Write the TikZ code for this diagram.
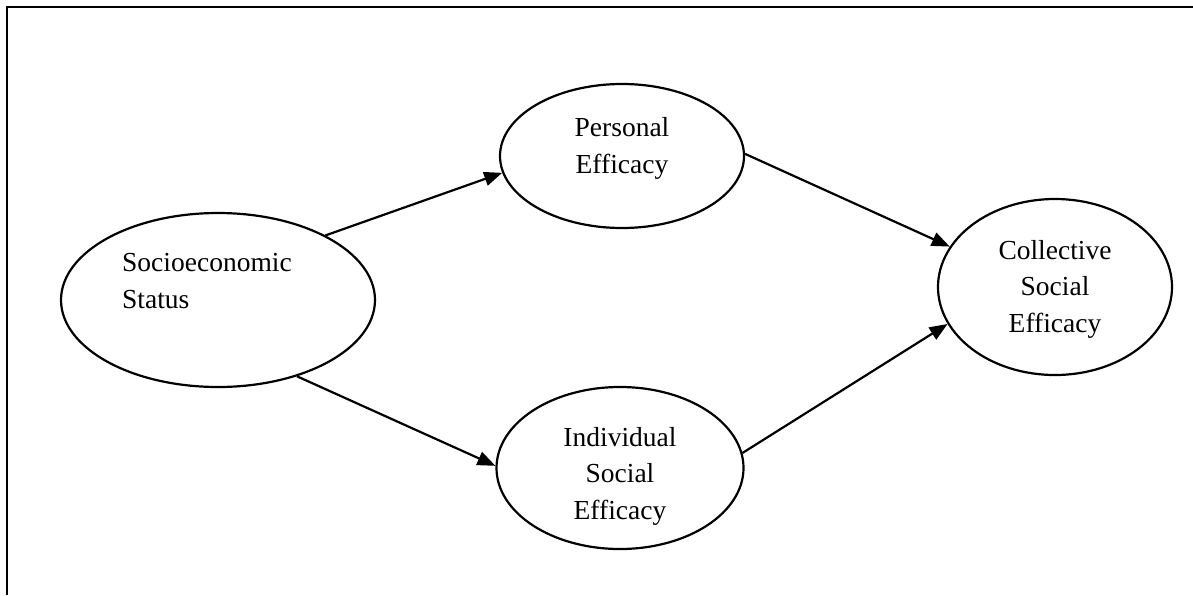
\documentclass[tikz,border=0pt]{standalone}
\usepackage{fontspec}
\setmainfont{Liberation Serif}
\usetikzlibrary{shapes.geometric,arrows.meta}

\begin{document}
\begin{tikzpicture}[x=1pt,y=-1pt,
    latent/.style={ellipse,draw,line width=2.2pt,inner sep=0pt},
    lbl/.style={font=\fontsize{27.5}{36.5}\selectfont,align=center,inner sep=0pt,anchor=base},
    path/.style={line width=2.2pt,-{Triangle[length=18pt,width=14pt]}},
    frameline/.style={line width=2.6pt}]
  \useasboundingbox (0,0) rectangle (1193,595);

  % open frame: top and left edges only
  \coordinate (frTR) at (1193,7);
  \coordinate (frTL) at (7,7);
  \coordinate (frBL) at (7,595);
  \draw[frameline] (frTR) -- (frTL) -- (frBL);

  % latent variables
  \node[latent,minimum width=314pt,minimum height=174pt] (ses) at (218,300) {};
  \node[latent,minimum width=244pt,minimum height=144pt] (pe)  at (622,156) {};
  \node[latent,minimum width=247pt,minimum height=162pt] (ise) at (620,468) {};
  \node[latent,minimum width=234pt,minimum height=176pt] (cse) at (1055,287) {};

  % labels (anchored at the baseline of the last line)
  \node[lbl,anchor=base west,align=left] (sesL) at (122,308) {Socioeconomic\\Status};
  \node[lbl] (peL)  at (622,173) {Personal\\Efficacy};
  \node[lbl] (iseL) at (620,519) {Individual\\Social\\Efficacy};
  \node[lbl] (cseL) at (1055,332) {Collective\\Social\\Efficacy};

  % paths
  \draw[path] (ses.31) -- (pe.188);
  \draw[path] (ses.-44) -- (ise.179);
  \draw[path] (pe.1) -- (cse.159);
  \draw[path] (ise.7) -- (cse.199);
\end{tikzpicture}
\end{document}
